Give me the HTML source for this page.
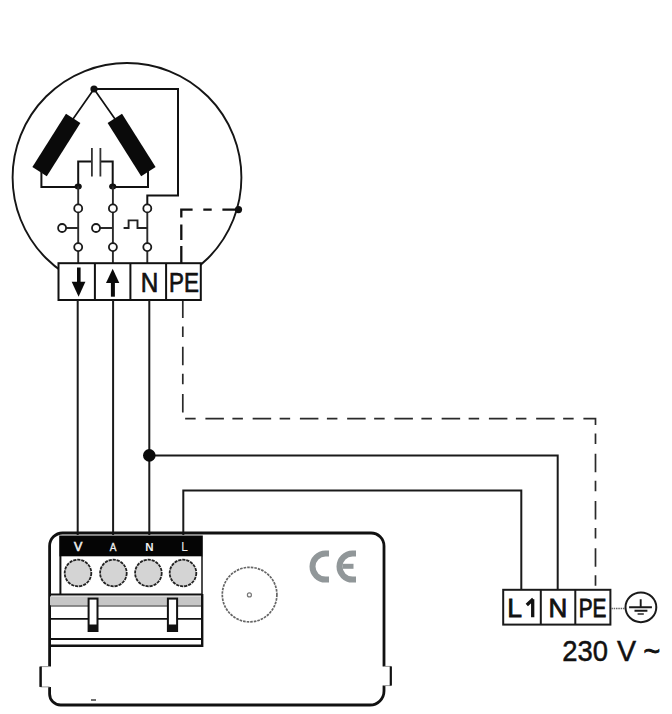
<!DOCTYPE html>
<html><head><meta charset="utf-8">
<style>
html,body{margin:0;padding:0;background:#fff;}
body{width:672px;height:714px;overflow:hidden;font-family:"Liberation Sans",sans-serif;}
svg{display:block;}
text{font-family:"Liberation Sans",sans-serif;}
</style></head>
<body>
<svg width="672" height="714" viewBox="0 0 672 714">
<rect width="672" height="714" fill="#fff"/>

<!-- big sensor circle -->
<circle cx="127" cy="177.4" r="114.4" fill="none" stroke="#151515" stroke-width="1.9"/>

<!-- windings -->
<g fill="#0a0a0a">
<polygon points="66,113.8 80.4,123.1 46.8,176.2 32.4,166.9"/>
<polygon points="122,113.8 107.6,123.1 141.2,176.2 155.6,166.9"/>
</g>
<g fill="none" stroke="#111" stroke-width="2">
<path d="M94,89 L73,119 M94,89 L115,119" stroke-width="1.7"/>
<path d="M94,89 H178 V195.5 H147.3 V204.4"/>
<path d="M41.4,171 V187 H78.2"/>
<path d="M148,171 V187 H112.7"/>
<path d="M78.2,186.3 V161.6 H91.9 M100.4,161.6 H112.7 V186.3"/>
</g>
<g stroke="#333" stroke-width="1.8">
<path d="M91.9,148 V176.5 M100.4,148 V176.5"/>
</g>
<circle cx="94" cy="89" r="3.6" fill="#111"/>
<ellipse cx="78.2" cy="186.5" rx="3.6" ry="3" fill="#111"/>
<ellipse cx="112.7" cy="186.5" rx="3.6" ry="3" fill="#111"/>

<!-- switch columns -->
<g fill="none" stroke="#2a2a2a" stroke-width="1.9">
<path d="M78.2,186.3 V204.4 M78.2,212.4 V243.1 M78.2,251.1 V263.6"/>
<path d="M112.9,186.3 V204.4 M112.9,212.4 V243.1 M112.9,251.1 V263.6"/>
<path d="M147.3,212.4 V243.1 M147.3,251.1 V263.6"/>
<path d="M66.1,228 H78.2 M100,228 H112.9"/>
<path d="M123.6,228 H128.6 V220.4 H137.5 V228 H147.3" stroke="#222"/>
</g>
<g fill="#fff" stroke="#1a1a1a" stroke-width="1.8">
<circle cx="78.2" cy="208.4" r="4"/>
<circle cx="112.9" cy="208.4" r="4"/>
<circle cx="147.3" cy="208.4" r="4"/>
<circle cx="78.2" cy="247.1" r="4"/>
<circle cx="112.9" cy="247.1" r="4"/>
<circle cx="147.3" cy="247.1" r="4"/>
<circle cx="62.1" cy="228" r="4"/>
<circle cx="96" cy="228" r="4"/>
</g>

<!-- PE dashed -->
<g fill="none" stroke="#111" stroke-width="2.3">
<path d="M238.5,209.6 H222.4 M211.7,209.6 H203.3 M192.6,209.6 H181.3 V217.4 M181.3,224.5 V240 M181.3,246 V263"/>
<path d="M182.8,300.5 V418.6 H595.5 V589.5" stroke-dasharray="18.5 8.5 10.5 9.75" stroke-dashoffset="1.05" stroke="#2a2a2a" stroke-width="1.7"/>
</g>
<circle cx="238.5" cy="209.6" r="3.6" fill="#111"/>

<!-- top terminal box -->
<g fill="#fff" stroke="#111" stroke-width="2">
<rect x="58.5" y="263.2" width="142.3" height="36.8"/>
</g>
<g stroke="#111" stroke-width="2">
<path d="M94.9,263.2 V300 M130.4,263.2 V300 M166.1,263.2 V300"/>
</g>
<!-- arrows -->
<g fill="#0a0a0a">
<rect x="77" y="267.5" width="3.6" height="15"/>
<polygon points="71.7,281.8 85.4,281.8 78.6,296.7"/>
<polygon points="112.7,268.7 106,283 119.3,283"/>
<rect x="110.9" y="282" width="4" height="14.7"/>
</g>
<g fill="#111" stroke="#111" stroke-width="0.7">
<text x="149.6" y="291.6" font-size="27" text-anchor="middle" transform="translate(149.6 0) scale(0.9 1) translate(-149.6 0)">N</text>
<text x="184" y="291.6" font-size="27" text-anchor="middle" transform="translate(184 0) scale(0.83 1) translate(-184 0)">PE</text>
</g>

<!-- vertical wires from box to device -->
<g fill="none" stroke="#1a1a1a" stroke-width="2">
<path d="M77.7,300 V535 M113.1,300 V535 M149.3,300 V535"/>
<path d="M149.3,455.4 H557.7 V589.5"/>
<path d="M183.3,535 V490.6 H521.3 V589.5"/>
</g>
<circle cx="149.3" cy="455.4" r="6.3" fill="#0a0a0a"/>

<!-- right terminal block -->
<rect x="503.2" y="589.8" width="107.2" height="34.8" fill="#fff" stroke="#1a1a1a" stroke-width="2"/>
<path d="M540.8,589.8 V624.6 M575.3,589.8 V624.6" stroke="#1a1a1a" stroke-width="2"/>
<g fill="#111" stroke="#111" stroke-width="0.8">
<text x="507.2" y="617.3" font-size="25.5" transform="translate(507.2 0) scale(1.04 1) translate(-507.2 0)">L</text>
<path d="M532.7,617.3 V599.2 M533.2,599 L526.8,605" fill="none" stroke-width="3.3"/>
<text x="557.8" y="617.3" font-size="25.5" text-anchor="middle" transform="translate(557.8 0) scale(1.02 1) translate(-557.8 0)">N</text>
<text x="592.6" y="617.1" font-size="25" text-anchor="middle" transform="translate(592.6 0) scale(0.83 1) translate(-592.6 0)">PE</text>
</g>
<!-- ground -->
<path d="M611.4,608.5 H625" stroke="#666" stroke-width="1.3" stroke-dasharray="1.5 0.8"/>
<ellipse cx="640.9" cy="607.3" rx="15.4" ry="14.9" fill="none" stroke="#1a1a1a" stroke-width="2"/>
<g stroke="#1a1a1a" stroke-width="1.9">
<path d="M640.7,599.3 V607 M629.1,607.3 H651.9 M634.5,610.8 H647.4"/>
<path d="M637.6,614 H643.8" stroke="#555"/>
</g>
<g fill="#111" stroke="#111" stroke-width="0.5" font-size="29.5">
<text x="562.3" y="661.2" transform="translate(562.3 0) scale(0.93 1) translate(-562.3 0)">230</text>
<text x="617" y="661.2" transform="translate(617 0) scale(0.97 1) translate(-617 0)">V</text>
<text x="643.6" y="660.6" font-size="28.5" stroke-width="0.9">~</text>
</g>

<!-- device -->
<path d="M62.5,533 H371 A13,13 0 0 1 384,546 V666.4 M384,685.6 V691 A14,14 0 0 1 370,705 H60.6 A11,11 0 0 1 49.6,694 V687 M49.6,666.6 V546 A13,13 0 0 1 62.5,533" fill="none" stroke="#111" stroke-width="2.8"/>
<path d="M49.6,666.6 H40.5 V686.9 H49.6" fill="none" stroke="#999" stroke-width="1"/>
<path d="M40.6,666.6 V686.9" stroke="#111" stroke-width="2.5"/>
<path d="M384,666.4 H390.8 V685.6 H384" fill="none" stroke="#999" stroke-width="1"/>
<path d="M390.8,666.4 V685.6" stroke="#111" stroke-width="2.2"/>

<!-- terminal header -->
<rect x="59.2" y="535.5" width="143.6" height="20.8" fill="#050505"/>
<path d="M60.4,556 V594" stroke="#111" stroke-width="2"/>
<path d="M202,556 V594" stroke="#111" stroke-width="1.5"/>
<g font-size="11" fill="#eee" text-anchor="middle">
<text x="78.1" y="551.3" font-size="12.5" stroke="#eee" stroke-width="0.6">V</text>
<text x="113" y="551.3" font-size="10" stroke="#eee" stroke-width="0.3">A</text>
<text x="149.3" y="551.3" font-weight="bold" font-size="11.5">N</text>
<text x="184.6" y="551.3" font-size="12">L</text>
</g>
<!-- screws -->
<g fill="#d4d4d4" stroke="#222" stroke-width="1.8" stroke-dasharray="3.2 0.9">
<circle cx="78" cy="573" r="13.3"/>
<circle cx="113.4" cy="573" r="13.3"/>
<circle cx="148.4" cy="573" r="13.3"/>
<circle cx="183" cy="573" r="13.3"/>
</g>
<!-- lower terminal structure -->
<path d="M50,594.5 H202" stroke="#111" stroke-width="1.8"/>
<rect x="50" y="596.4" width="152" height="9" fill="#c6c6c6"/>
<path d="M50,606 H202" stroke="#222" stroke-width="1.2"/>
<path d="M50,618.8 H202" stroke="#111" stroke-width="1.8"/>
<path d="M50,639 H202" stroke="#111" stroke-width="2"/>
<path d="M50,645.8 H202" stroke="#111" stroke-width="2.6"/>
<path d="M202.2,594 V647" stroke="#111" stroke-width="2.4"/>
<!-- levers -->
<g fill="#fff" stroke="#111" stroke-width="2">
<rect x="88.6" y="598.6" width="8.9" height="32.4"/>
<rect x="167.9" y="598.6" width="9.2" height="32.4"/>
</g>
<rect x="88" y="624.5" width="10" height="7.2" fill="#111"/>
<rect x="167.3" y="624.5" width="10.4" height="7.2" fill="#111"/>
<path d="M91,700 H96" stroke="#333" stroke-width="1.4"/>

<!-- dial -->
<circle cx="249.6" cy="594.6" r="27.3" fill="none" stroke="#666" stroke-width="1.7" stroke-dasharray="2.6 1"/>
<circle cx="249.4" cy="594.9" r="2" fill="none" stroke="#777" stroke-width="1.2"/>

<!-- CE -->
<g fill="none" stroke="#919799" stroke-width="6">
<path d="M329,553.6 H325.5 A13,13 0 0 0 325.5,579.6 H329"/>
<path d="M356,553.6 H352.5 A13,13 0 0 0 352.5,579.6 H356"/>
</g>
<path d="M342.5,566.3 H353.5" stroke="#919799" stroke-width="5"/>
</svg>
</body></html>
